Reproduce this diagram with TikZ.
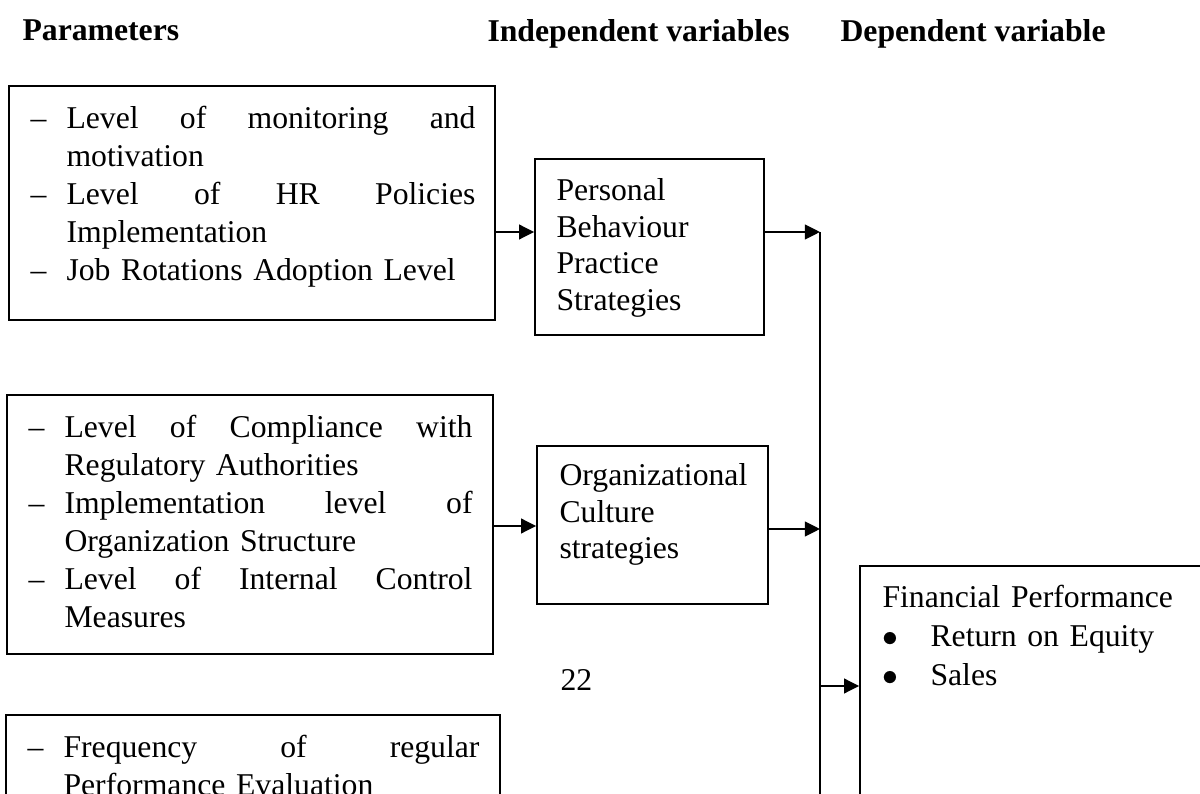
\documentclass[tikz,border=0pt]{standalone}
\usepackage{fontspec}
\setmainfont{Liberation Serif}
\usetikzlibrary{arrows.meta,fit}
% one drawing unit
\newlength\pxu
\setlength\pxu{0.3785pt}
% a justified first line of an item, and the dash / hanging indent column
\newcommand\spreadln[2]{\makebox[#1\pxu][s]{\spaceskip=0.25em plus 1fill\relax #2}}
\newcommand\dashcol{\makebox[36\pxu][l]{–}}
\newcommand\indentcol{\hspace*{36\pxu}}
\newcommand\bulletcol{\makebox[48\pxu][l]{$\bullet$}}

\begin{document}
\begin{tikzpicture}[x=0.3785pt,y=-0.3785pt,
  frame/.style={draw, line width=0.7pt, inner sep=0pt},
  body/.style={anchor=north west, inner sep=0pt, align=left,
    font=\fontsize{12}{14.38}\selectfont},
  head/.style={anchor=base west, inner sep=0pt,
    font=\fontsize{12}{14}\selectfont\bfseries},
  link/.style={line width=0.7pt, -{Triangle[length=5.7pt,width=5.6pt]}},
]
\useasboundingbox (0,0) rectangle (1200,794);
\fill[white] (0,0) rectangle (1200,794);
\clip (0,0) rectangle (1200,794);

% column headings
\node[head] (h1) at (22,40.7) {Parameters};
\node[head] (h2) at (487,41.5) {Independent variables};
\node[head] (h3) at (840,41.5) {Dependent variable};

% parameter boxes
\node[frame, fit={(9,86) (495,320)}] (p1) {};
\node[frame, fit={(7,395) (493,654)}] (p2) {};
\node[frame, fit={(6,715) (500,900)}] (p3) {};

\node[body, text width=450\pxu] (p1t) at (30,101.4)
  {\strut\dashcol\spreadln{409}{Level of monitoring and}\\
   \indentcol motivation\\
   \dashcol\spreadln{409}{Level of HR Policies}\\
   \indentcol Implementation\\
   \dashcol Job Rotations Adoption Level};

\node[body, text width=450\pxu] (p2t) at (28,410.4)
  {\strut\dashcol\spreadln{408}{Level of Compliance with}\\
   \indentcol Regulatory Authorities\\
   \dashcol\spreadln{408}{Implementation level of}\\
   \indentcol Organization Structure\\
   \dashcol\spreadln{408}{Level of Internal Control}\\
   \indentcol Measures};

\node[body, text width=460\pxu] (p3t) at (27,730.4)
  {\strut\dashcol\spreadln{416}{Frequency of regular}\\
   \indentcol Performance Evaluation};

% independent variables
\node[frame, fit={(535,159) (764,335)}] (pb) {};
\node[frame, fit={(537,446) (768,604)}] (oc) {};

\node[body, text width=200\pxu, font=\fontsize{12}{13.89}\selectfont] (pbt) at (556,174.3)
  {\strut Personal\\ Behaviour\\ Practice\\ Strategies};
\node[body, text width=200\pxu, font=\fontsize{12}{13.89}\selectfont] (oct) at (559,459.3)
  {\strut Organizational\\ Culture\\ strategies};

% dependent variable
\node[frame, fit={(860,566) (1260,900)}] (fin) {};
\node[body, text width=330\pxu, font=\fontsize{12}{14.76}\selectfont] (fint) at (882,579.7)
  {\strut Financial Performance\\
   \bulletcol Return on Equity\\
   \bulletcol Sales};

% page number
\node[anchor=base west, inner sep=0pt, font=\fontsize{12}{14}\selectfont] (pg) at (560,691) {22};

% connectors
\coordinate (r1) at (0,232);
\coordinate (r2) at (0,526);
\coordinate (r3) at (0,529);
\coordinate (r4) at (0,686);
\coordinate (bustop) at (820,232);
\coordinate (busend) at (820,900);
\draw[line width=0.7pt] (bustop) -- (busend);
\draw[link] (p1.east |- r1) -- (pb.west |- r1);
\draw[link] (pb.east |- r1) -- (bustop);
\draw[link] (p2.east |- r2) -- (oc.west |- r2);
\draw[link] (oc.east |- r3) -- (bustop |- r3);
\draw[link] (bustop |- r4) -- (fin.west |- r4);
\end{tikzpicture}
\end{document}
